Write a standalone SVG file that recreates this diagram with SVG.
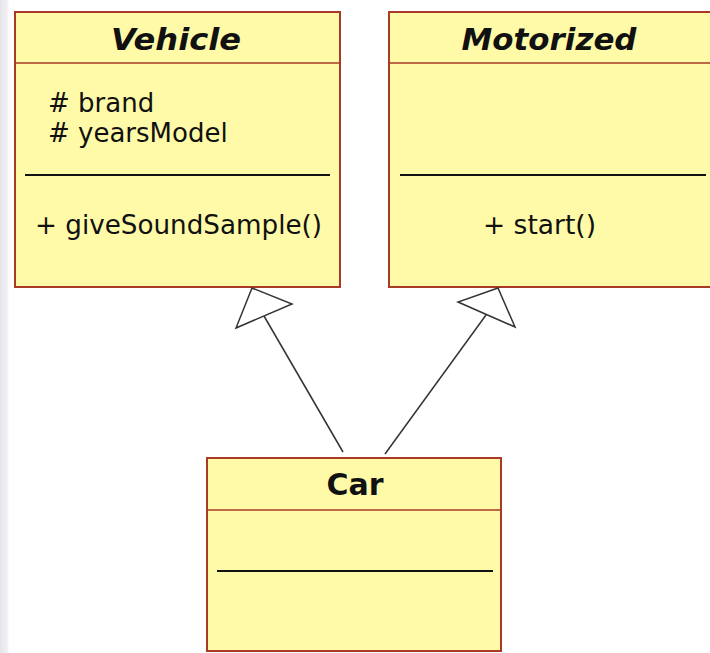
<svg xmlns="http://www.w3.org/2000/svg" width="710" height="653" viewBox="0 0 710 653">
<defs>
<style>
.box{fill:#fffaa8;stroke:#a83a26;stroke-width:2}
.hdr{stroke:#a83a26;stroke-width:1.5}
.sep{stroke:#111;stroke-width:2}
.title{font-family:"DejaVu Sans",sans-serif;font-weight:bold;font-size:30px;fill:#111;text-anchor:middle}
.abs{font-style:oblique}
.mem{font-family:"DejaVu Sans",sans-serif;font-size:26px;fill:#111}
.edge{stroke:#333;stroke-width:1.5;fill:none}
.head{fill:#fff;stroke:#333;stroke-width:1.5;stroke-linejoin:miter}
</style>
<linearGradient id="lg" x1="0" y1="0" x2="1" y2="0">
<stop offset="0" stop-color="#e6e6ea"/>
<stop offset="0.8" stop-color="#f0f0f3"/>
<stop offset="1" stop-color="#ffffff"/>
</linearGradient>
</defs>
<rect x="0" y="0" width="710" height="653" fill="#ffffff"/>
<rect x="0" y="0" width="9" height="653" fill="url(#lg)"/>

<g id="Vehicle">
<rect class="box" x="15" y="12" width="325" height="275"/>
<line class="hdr" x1="15" y1="63" x2="340" y2="63"/>
<text class="title abs" x="176" y="50" textLength="130" lengthAdjust="spacingAndGlyphs">Vehicle</text>
<text class="mem" x="48" y="112"># brand</text>
<text class="mem" x="48" y="142"># yearsModel</text>
<line class="sep" x1="25" y1="175" x2="330" y2="175"/>
<text class="mem" x="35" y="234" textLength="287" lengthAdjust="spacingAndGlyphs">+ giveSoundSample()</text>
</g>

<g id="Motorized">
<rect class="box" x="389" y="12" width="330" height="275"/>
<line class="hdr" x1="389" y1="63" x2="719" y2="63"/>
<text class="title abs" x="549" y="50" textLength="175" lengthAdjust="spacingAndGlyphs">Motorized</text>
<line class="sep" x1="400" y1="175" x2="706" y2="175"/>
<text class="mem" x="483" y="234" textLength="113" lengthAdjust="spacingAndGlyphs">+ start()</text>
</g>

<g id="Car">
<rect class="box" x="207" y="458" width="294" height="193"/>
<line class="hdr" x1="207" y1="510" x2="501" y2="510"/>
<text class="title" x="355" y="495">Car</text>
<line class="sep" x1="217" y1="571" x2="493" y2="571"/>
</g>

<g id="connectors">
<line class="edge" x1="264" y1="316" x2="343" y2="452"/>
<polygon class="head" points="252,288 292,304 236,328"/>
<line class="edge" x1="486" y1="315" x2="385" y2="454"/>
<polygon class="head" points="498,288 458,302 515,327"/>
</g>
</svg>
